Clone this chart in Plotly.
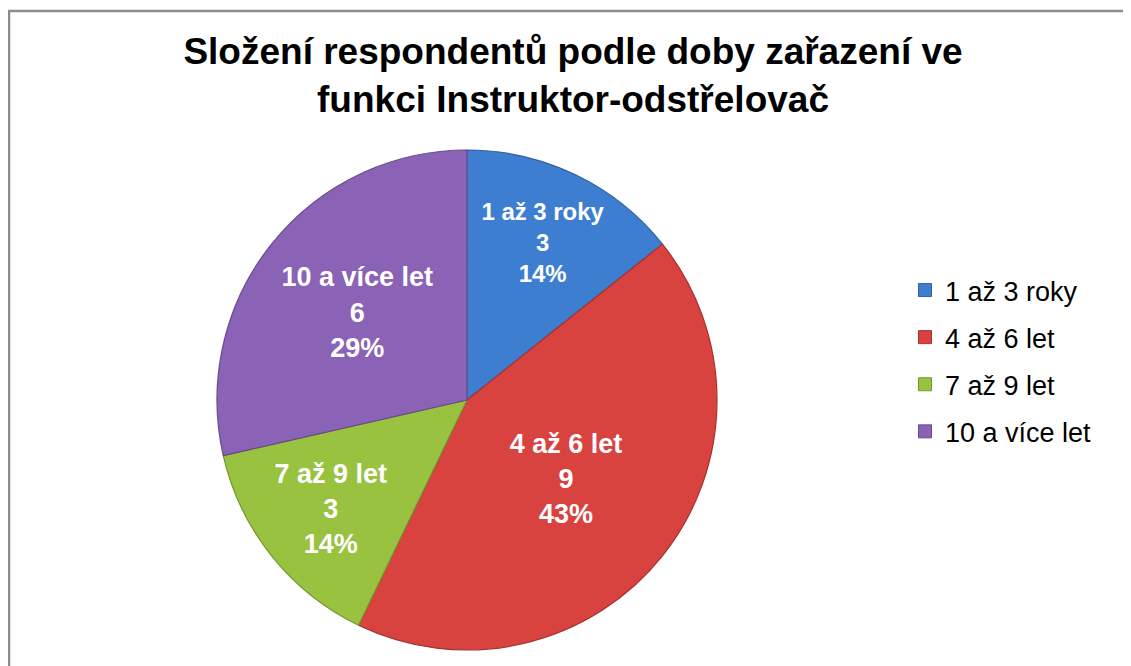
import plotly.graph_objects as go

categories = ["1 až 3 roky", "4 až 6 let", "7 až 9 let", "10 a více let"]
values = [3, 9, 3, 6]
colors = ["#3d7ed0", "#d8423f", "#98c240", "#8a62b6"]
edge_colors = ["#2f62a0", "#a53230", "#74962f", "#684a8c"]
title_text = "Složení respondentů podle doby zařazení ve<br>funkci Instruktor-odstřelovač"

# the page body adds an 8px offset; size the figure so the page does not overflow
W, H = 1123, 658
cx, cy, r = 459, 392, 250
FONT = "Liberation Sans, Arial"

fig = go.Figure()
fig.add_trace(go.Pie(
    labels=categories,
    values=values,
    sort=False,
    direction="clockwise",
    rotation=0,
    marker=dict(colors=colors, line=dict(color=edge_colors, width=1.2)),
    texttemplate="%{label}<br>%{value}<br>%{percent:.0%}",
    textposition="inside",
    insidetextorientation="horizontal",
    textfont=dict(family=FONT, size=27, color="white", weight="bold"),
    domain=dict(x=[(cx - r) / W, (cx + r) / W], y=[(H - cy - r) / H, (H - cy + r) / H]),
    hoverinfo="label+value+percent",
    showlegend=False,
))

for i, (cat, col, ec) in enumerate(zip(categories, colors, edge_colors)):
    fig.add_trace(go.Scatter(
        x=[None], y=[None], mode="markers", name=cat,
        legendgroup="g%d" % i,
        marker=dict(symbol="square", size=13, color=col, line=dict(color=ec, width=1)),
        showlegend=True, hoverinfo="skip",
    ))

bx = 1 / W
by = 1 - 3 / H
fig.update_layout(
    width=W, height=H,
    margin=dict(l=0, r=0, t=0, b=0),
    paper_bgcolor="white",
    plot_bgcolor="white",
    xaxis=dict(visible=False),
    yaxis=dict(visible=False),
    title=dict(
        text="<b>" + title_text + "</b>",
        x=565 / W, xanchor="center",
        y=1 - 56 / H, yanchor="middle",
        font=dict(family=FONT, size=37, color="black"),
    ),
    legend=dict(
        x=897 / W, xanchor="left",
        y=1 - 353 / H, yanchor="middle",
        font=dict(family=FONT, size=27, color="black"),
        itemwidth=30, tracegroupgap=9,
        bgcolor="rgba(0,0,0,0)",
    ),
    showlegend=True,
    shapes=[dict(type="path", xref="paper", yref="paper",
                 path="M %f,%f L %f,%f L %f,%f" % (bx, -0.05, bx, by, 1.1, by),
                 line=dict(color="#8c8c8c", width=2.5))],
)

fig.write_html("out.html")
